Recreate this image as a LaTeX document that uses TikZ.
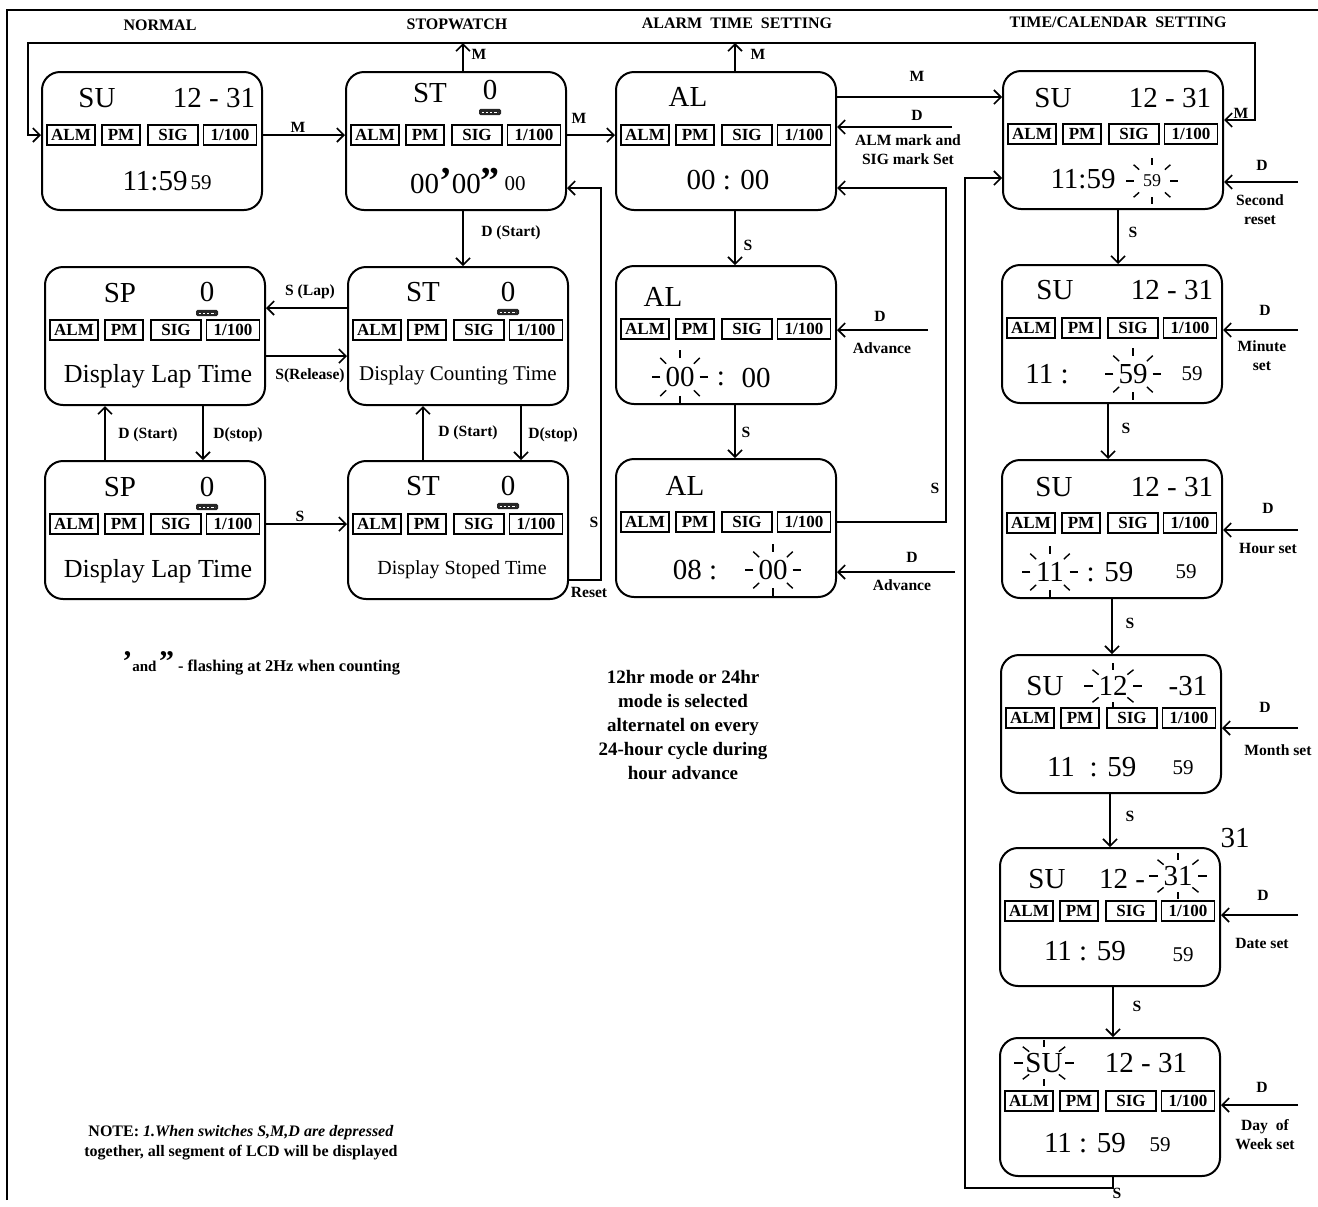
\documentclass[tikz,border=0pt]{standalone}
\usepackage{fontspec}
\setmainfont{Liberation Serif}
\usetikzlibrary{arrows.meta,calc}

\newcommand{\flashrays}[4]{%
  \foreach \ang in {0,45,...,315}
    \draw[line width=0.7pt] ({#1+0.7*#3*cos(\ang)},{#2+0.7*#4*sin(\ang)}) -- ({#1+#3*cos(\ang)},{#2+#4*sin(\ang)});}

\tikzset{
  lcd/.style={draw, line width=1pt, rounded corners=9pt, minimum width=110pt, minimum height=69pt, inner sep=0pt},
  lab/.style={draw, line width=0.9pt, inner sep=0pt, minimum height=10pt, font=\bfseries\fontsize{8.5}{8.5}\selectfont},
  big/.style={inner sep=0pt, font=\fontsize{14.5}{14.5}\selectfont},
  mid/.style={inner sep=0pt, font=\fontsize{10.5}{10.5}\selectfont},
  tiny/.style={inner sep=0pt, font=\fontsize{9}{9}\selectfont},
  msg/.style={inner sep=0pt, font=\fontsize{13}{13}\selectfont},
  cnt/.style={inner sep=0pt, font=\fontsize{10.5}{10.5}\selectfont},
  stp/.style={inner sep=0pt, font=\fontsize{10}{10}\selectfont},
  keylbl/.style={inner sep=1pt, align=center, font=\bfseries\fontsize{7.8}{9.5}\selectfont},
  head/.style={inner sep=0pt, font=\bfseries\fontsize{8}{8}\selectfont},
  bar/.style={fill=black!85, rounded corners=0.8pt, minimum width=11pt, minimum height=3.2pt, inner sep=0pt},
  ln/.style={line width=0.8pt},
  arr/.style={line width=0.8pt, -{Straight Barb[length=3.5pt,width=7pt]}},
  arrs/.style={line width=0.8pt, {Straight Barb[length=3.5pt,width=7pt]}-{Straight Barb[length=3.5pt,width=7pt]}}
}

\begin{document}
\begin{tikzpicture}[x=0.5pt,y=-0.5pt]
  \useasboundingbox (0,0) rectangle (1318,1206);
  \draw[ln] (7,1200) -- (7,10) -- (1318,10);

  % headings
  \node[head] (h-norm)  at (160,25)  {NORMAL};
  \node[head] (h-stop)  at (457,24)  {STOPWATCH};
  \node[head] (h-alarm) at (737,23)  {ALARM\ \ TIME\ \ SETTING};
  \node[head] (h-tc)    at (1118,22) {TIME/CALENDAR\ \ SETTING};

  % displays
  \node[lcd] (norm) at (152,141)  {};
  \node[lcd] (st0)  at (456,141)  {};
  \node[lcd] (al0)  at (726,141)  {};
  \node[lcd] (tc1)  at (1113,140) {};
  \node[lcd] (sp1)  at (155,336)  {};
  \node[lcd] (st1)  at (458,336)  {};
  \node[lcd] (al1)  at (726,335)  {};
  \node[lcd] (tc2)  at (1112,334) {};
  \node[lcd] (sp2)  at (155,530)  {};
  \node[lcd] (st2)  at (458,530)  {};
  \node[lcd] (al2)  at (726,528)  {};
  \node[lcd] (tc3)  at (1112,529) {};
  \node[lcd] (tc4)  at (1111,724) {};
  \node[lcd] (tc5)  at (1110,917) {};
  \node[lcd] (tc6)  at (1110,1107) {};

  \foreach \b in {norm,st0,al0,tc1,sp1,st1,al1,tc2,sp2,st2,al2,tc3,tc4,tc5,tc6} {
    \node[lab, minimum width=24pt]   (\b-alm) at ($(\b.west)+(30,-6)$)  {ALM};
    \node[lab, minimum width=19pt]   (\b-pm)  at ($(\b.west)+(80,-6)$)  {PM};
    \node[lab, minimum width=25pt]   (\b-sig) at ($(\b.west)+(132,-6)$) {SIG};
    \node[lab, minimum width=26.5pt] (\b-hun) at ($(\b.west)+(189,-6)$) {1/100};
  }

  % normal
  \node[big] (norm-day)  at (97,98)   {SU};
  \node[big] (norm-date) at (214,98)  {12 - 31};
  \node[big] (norm-time) at (155,181) {11:59};
  \node[mid] (norm-sec)  at (201,183) {59};
%%%
  \node[big] (st0-mode) at (430,93)  {ST};
  \node[big] (st0-lap)  at (490,90)  {0};
  \node[bar] (st0-bar)  at (490,112) {};
  \node[big] (st0-time) at (455,181) {00{\fontsize{19}{19}\selectfont\bfseries ’}00{\fontsize{19}{19}\selectfont\bfseries ”}};
  \node[mid] (st0-hun)  at (515,184) {00};
%%%
  \node[big] (al0-mode) at (688,97)  {AL};
  \node[big] (al0-time) at (728,180) {00 : 00};
%%%
  \node[big]  (tc1-day)  at (1053,98)  {SU};
  \node[big]  (tc1-date) at (1170,98)  {12 - 31};
  \node[big]  (tc1-time) at (1083,179) {11:59};
  \node[tiny] (tc1-sec)  at (1152,181) {59};
  \flashrays{1152}{181}{26}{23}
%%%
  \node[big] (sp1-mode) at (120,293) {SP};
  \node[big] (sp1-lap)  at (207,292) {0};
  \node[bar] (sp1-bar)  at (207,313) {};
  \node[msg] (sp1-msg)  at (158,376) {Display Lap Time};
%%%
  \node[big] (st1-mode) at (423,292) {ST};
  \node[big] (st1-lap)  at (508,292) {0};
  \node[bar] (st1-bar)  at (508,312) {};
  \node[cnt] (st1-msg)  at (458,375) {Display Counting Time};
%%%
  \node[big] (al1-mode)  at (663,297) {AL};
  \node[big] (al1-hour)  at (680,377) {00};
  \flashrays{680}{377}{28}{27}
  \node[big] (al1-colon) at (721,379) {:};
  \node[big] (al1-min)   at (756,378) {00};
%%%
  \node[big] (tc2-day)  at (1055,290) {SU};
  \node[big] (tc2-date) at (1172,290) {12 - 31};
  \node[big] (tc2-hour) at (1047,374) {11 :};
  \node[big] (tc2-min)  at (1133,374) {59};
  \flashrays{1133}{374}{28}{26}
  \node[mid] (tc2-sec)  at (1192,374) {59};
%%%
  \node[big] (sp2-mode) at (120,487) {SP};
  \node[big] (sp2-lap)  at (207,487) {0};
  \node[bar] (sp2-bar)  at (207,507) {};
  \node[msg] (sp2-msg)  at (158,571) {Display Lap Time};
%%%
  \node[big] (st2-mode) at (423,486) {ST};
  \node[big] (st2-lap)  at (508,486) {0};
  \node[bar] (st2-bar)  at (508,506) {};
  \node[stp] (st2-msg)  at (462,570) {Display Stoped Time};
%%%
  \node[big] (al2-mode) at (685,486) {AL};
  \node[big] (al2-hour) at (695,570) {08 :};
  \node[big] (al2-min)  at (773,570) {00};
  \flashrays{773}{570}{28}{26}
%%%
  \node[big] (tc3-day)  at (1054,487) {SU};
  \node[big] (tc3-date) at (1172,487) {12 - 31};
  \node[big] (tc3-hour) at (1050,572) {11};
  \flashrays{1050}{572}{28}{26}
  \node[big] (tc3-min)  at (1110,572) {: 59};
  \node[mid] (tc3-sec)  at (1186,572) {59};
%%%
  \node[big] (tc4-day)   at (1045,686) {SU};
  \node[big] (tc4-month) at (1113,686) {12};
  \flashrays{1113}{686}{29}{23}
  \node[big] (tc4-date)  at (1188,686) {-31};
  \node[big] (tc4-hour)  at (1061,767) {11};
  \node[big] (tc4-min)   at (1113,767) {: 59};
  \node[mid] (tc4-sec)   at (1183,768) {59};
%%%
  \node[big] (tc5-day)   at (1047,879) {SU};
  \node[big] (tc5-month) at (1122,879) {12 -};
  \node[big] (tc5-date)  at (1178,876) {31};
  \flashrays{1178}{876}{29}{23}
  \node[big] (tc5-time)  at (1085,951) {11 : 59};
  \node[mid] (tc5-sec)   at (1183,955) {59};
  \node[big] (tc5-note)  at (1235,838) {31};
%%%
  \node[big] (tc6-day)  at (1044,1063) {SU};
  \flashrays{1044}{1063}{30}{23}
  \node[big] (tc6-date) at (1146,1063) {12 - 31};
  \node[big] (tc6-time) at (1085,1143) {11 : 59};
  \node[mid] (tc6-sec)  at (1160,1145) {59};

  \foreach \b in {st0,sp1,st1,sp2,st2}
    \draw[white, line width=0.5pt, dash pattern=on 1.2pt off 0.9pt]
      ([xshift=1.5pt]\b-bar.west) -- ([xshift=-1.5pt]\b-bar.east);

  % M key along the top
  \coordinate (fbL) at (28,43);
  \coordinate (fbR) at (1255,43);
  \coordinate (tc1-m) at ($(tc1.east)+(0,-20)$);
  \draw[arrs] (norm.west |- norm-alm) -| (fbL) -- (fbR) |- (tc1-m);
  \node[keylbl] (m-tc1) at (1241,113) {M};
  \coordinate (st0-up) at ($(st0.north)+(7,0)$);
  \draw[arr] (st0-up) -- (st0-up |- fbL);
  \node[keylbl] (m-st0) at (479,54) {M};
  \coordinate (al0-up) at ($(al0.north)+(9,0)$);
  \draw[arr] (al0-up) -- (al0-up |- fbL);
  \node[keylbl] (m-al0) at (758,54) {M};
  \draw[arr] (norm.east |- norm-alm) -- (st0.west |- norm-alm);
  \node[keylbl] (m-ns) at (298,127) {M};
  \draw[arr] (st0.east |- st0-alm) -- (al0.west |- st0-alm);
  \node[keylbl] (m-sa) at (579,118) {M};
  \coordinate (at-m) at ($(al0.east)+(0,-44)$);
  \draw[arr] (at-m) -- (at-m -| tc1.west);
  \node[keylbl] (m-at) at (917,76) {M};
  \coordinate (d-al0) at (952,127);
  \draw[arr] (d-al0) -- (d-al0 -| al0.east);
  \node[keylbl] (d-at) at (917,115) {D};
  \node[keylbl] (alm-set) at (908,150) {ALM mark and\\SIG mark Set};

  % stopwatch
  \draw[arr] ($(st0.south)+(7,0)$) -- ($(st1.north)+(5,0)$);
  \node[keylbl] (ds-st) at (511,233) {D (Start)};
  \coordinate (lap) at ($(st1.west)+(0,-28)$);
  \draw[arr] (lap) -- (lap -| sp1.east);
  \node[keylbl] (s-lap) at (310,292) {S (Lap)};
  \coordinate (rel) at ($(sp1.east)+(0,20)$);
  \draw[arr] (rel) -- (rel -| st1.west);
  \node[keylbl] (s-rel) at (310,376) {S(Release)};
  \draw[arr] ($(sp1.south)+(48,0)$) -- ($(sp2.north)+(48,0)$);
  \node[keylbl] (dp-sp) at (238,435) {D(stop)};
  \draw[arr] ($(sp2.north)+(-50,0)$) -- ($(sp1.south)+(-50,0)$);
  \node[keylbl] (ds-sp) at (148,435) {D (Start)};
  \draw[arr] ($(st1.south)+(63,0)$) -- ($(st2.north)+(63,0)$);
  \node[keylbl] (dp-st) at (553,435) {D(stop)};
  \draw[arr] ($(st2.north)+(-35,0)$) -- ($(st1.south)+(-35,0)$);
  \node[keylbl] (ds-st2) at (468,433) {D (Start)};
  \draw[arr] (sp2.east |- sp2-alm) -- (st2.west |- sp2-alm);
  \node[keylbl] (s-sp) at (300,516) {S};
  \coordinate (rst) at ($(st2.east)+(0,50)$);
  \coordinate (rst-in) at ($(st0.east)+(0,47)$);
  \draw[arr] (rst) -- ++(32,0) |- (rst-in);
  \node[keylbl] (s-rst) at (594,522) {S};
  \node[keylbl] (rst-lab) at (589,592) {Reset};

  % alarm
  \draw[arr] ($(al0.south)+(9,0)$) -- ($(al1.north)+(9,0)$);
  \node[keylbl] (s-al1) at (748,245) {S};
  \draw[arr] ($(al1.south)+(9,0)$) -- ($(al2.north)+(9,0)$);
  \node[keylbl] (s-al2) at (746,432) {S};
  \coordinate (al-in) at ($(al0.east)+(0,47)$);
  \draw[arr] (al2.east |- al2-alm) -- ++(109,0) |- (al-in);
  \node[keylbl] (s-alb) at (935,488) {S};
  \coordinate (d-al1) at (928,330);
  \draw[arr] (d-al1) -- (d-al1 -| al1.east);
  \node[keylbl] (d-al1l) at (880,316) {D};
  \node[keylbl] (adv1) at (882,348) {Advance};
  \coordinate (d-al2) at (955,572);
  \draw[arr] (d-al2) -- (d-al2 -| al2.east);
  \node[keylbl] (d-al2l) at (912,557) {D};
  \node[keylbl] (adv2) at (902,585) {Advance};

  % time/calendar
  \draw[arr] ($(tc1.south)+(5,0)$) -- ($(tc2.north)+(6,0)$);
  \node[keylbl] (s-tc2) at (1133,232) {S};
  \draw[arr] ($(tc2.south)+(-4,0)$) -- ($(tc3.north)+(-4,0)$);
  \node[keylbl] (s-tc3) at (1126,428) {S};
  \draw[arr] (tc3.south) -- ($(tc4.north)+(1,0)$);
  \node[keylbl] (s-tc4) at (1130,623) {S};
  \draw[arr] ($(tc4.south)+(-1,0)$) -- (tc5.north);
  \node[keylbl] (s-tc5) at (1130,816) {S};
  \draw[arr] ($(tc5.south)+(3,0)$) -- ($(tc6.north)+(3,0)$);
  \node[keylbl] (s-tc6) at (1137,1006) {S};
  \coordinate (lp) at (965,1188);
  \coordinate (tc1-in) at ($(tc1.west)+(0,38)$);
  \draw[arr] ($(tc6.south)+(3,0)$) |- (lp) |- (tc1-in);
  \node[keylbl] (s-tc1) at (1117,1193) {S};
  \foreach \b/\y in {tc1/182,tc2/330,tc3/530,tc4/728,tc5/915,tc6/1105} {
    \coordinate (d-\b) at (1298,\y);
    \draw[arr] (d-\b) -- (d-\b -| \b.east);
  }
  \node[keylbl] (d-tc1) at (1262,165)  {D};
  \node[keylbl] (l-tc1) at (1260,210)  {Second\\reset};
  \node[keylbl] (d-tc2) at (1265,310)  {D};
  \node[keylbl] (l-tc2) at (1262,356)  {Minute\\set};
  \node[keylbl] (d-tc3) at (1268,508)  {D};
  \node[keylbl] (l-tc3) at (1268,548)  {Hour set};
  \node[keylbl] (d-tc4) at (1265,707)  {D};
  \node[keylbl] (l-tc4) at (1278,750)  {Month set};
  \node[keylbl] (d-tc5) at (1263,895)  {D};
  \node[keylbl] (l-tc5) at (1262,943)  {Date set};
  \node[keylbl] (d-tc6) at (1262,1087) {D};
  \node[keylbl] (l-tc6) at (1265,1135) {Day\ \ of\\Week set};

  % notes
  \node[keylbl, anchor=west, font=\bfseries\fontsize{8.2}{9}\selectfont] (flashnote) at (120,663)
    {{\fontsize{15}{15}\selectfont ’}{\fontsize{7.5}{7.5}\selectfont and\,}{\fontsize{15}{15}\selectfont ”}\ - flashing at 2Hz when counting};
  \node[keylbl, font=\bfseries\fontsize{9.5}{12}\selectfont] (modenote) at (683,725)
    {12hr mode or 24hr\\mode is selected\\alternatel on every\\24-hour cycle during\\hour advance};
  \node[keylbl, font=\bfseries\fontsize{8}{10}\selectfont] (note) at (241,1143)
    {NOTE: \textit{1.When switches S,M,D are depressed}\\together, all segment of LCD will be displayed};
\end{tikzpicture}
\end{document}
